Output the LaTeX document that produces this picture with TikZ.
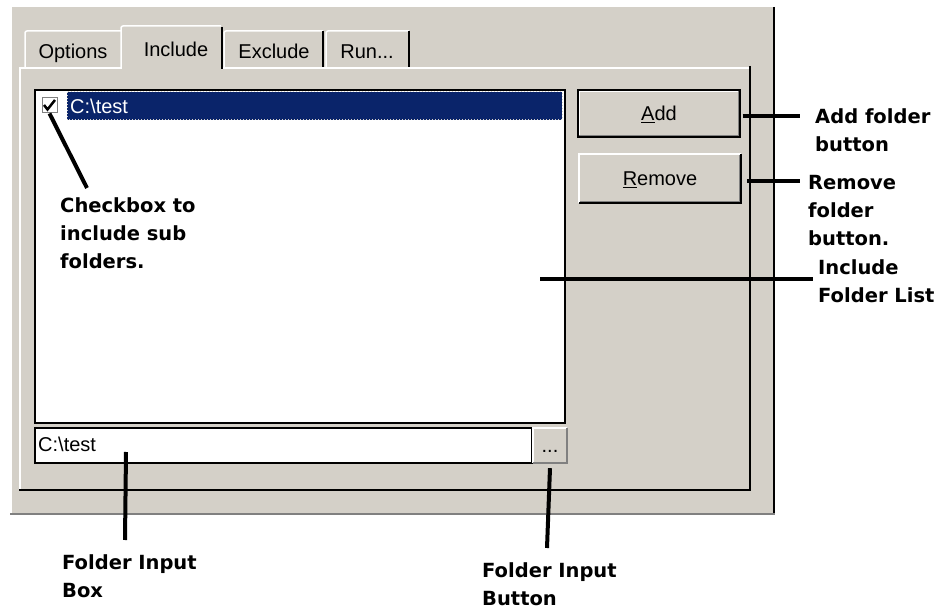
\documentclass[tikz,border=0pt]{standalone}
\usepackage{fontspec}
\setmainfont{Liberation Sans}
\newfontfamily\lblfont{DejaVu Sans}
\usetikzlibrary{positioning,calc}
\definecolor{WinGray}{RGB}{212,208,200}
\definecolor{SelBlue}{RGB}{10,36,106}
\definecolor{ShadeGray}{RGB}{128,128,128}

\begin{document}
\begin{tikzpicture}[x=1pt, y=-1pt,
	uitext/.style={font=\fontsize{20}{24}\selectfont, inner sep=0pt},
	lbl/.style={font=\lblfont\bfseries\fontsize{19.5}{28}\selectfont, align=left, anchor=north west, inner sep=0pt},
	callout/.style={line width=4pt},
	hilite/.style={white, line width=1.5pt},
	shade/.style={ShadeGray, line width=1.5pt},
	btnbox/.style={uitext, rectangle, fill=WinGray, text height=15pt, text depth=0pt}
	]
	\useasboundingbox (0,0) rectangle (951,609);
	% window and tab page
	\fill[WinGray] (10,7) rectangle (775,515);
	\draw[hilite] (11,515) -- (11,7);
	\draw[black, line width=1.5pt] (774,7) -- (774,515);
	\draw[ShadeGray, line width=2pt] (10,514) -- (775,514);
	\draw[hilite] (20,490) -- (20,68) -- (121,68);
	\draw[hilite] (222,68) -- (750,68);
	\draw[black, line width=1.5pt] (750,66) -- (750,490) -- (19,490);
	
	% tabs
	\draw[hilite, rounded corners=2pt] (25,67) -- (25,31) -- (121,31);
	\draw[hilite, rounded corners=2pt] (224,67) -- (224,31) -- (323,31);
	\draw[hilite, rounded corners=2pt] (326,67) -- (326,31) -- (409,31);
	\draw[black, line width=1.5pt] (323,31) -- (323,67);
	\draw[black, line width=1.5pt] (409,31) -- (409,67);
	\fill[WinGray] (121,26) rectangle (222,70);
	\draw[hilite, rounded corners=2pt] (121,69) -- (121,26) -- (221,26);
	\draw[black, line width=1.5pt] (222,27) -- (222,69);
	\node[uitext, anchor=base] (tabopt) at (73,59) {Options};
	\node[uitext, anchor=base] (tabinc) at (176,57) {Include};
	\node[uitext, anchor=base] (tabexc) at (274,59) {Exclude};
	\node[uitext, anchor=base] (tabrun) at (367,59) {Run...};
	
	% folder list
	\node[rectangle, fill=white, draw=black, line width=1.2pt, minimum width=530pt, minimum height=333pt, inner sep=0pt] (list) at (300,256.5) {};
	\fill[SelBlue] (67,92) rectangle (562,120);
	\draw[WinGray, dotted, line width=1pt] (67,92) rectangle (562,120);
	\node[uitext, anchor=west, white] (entry) at (70,106) {C:\textbackslash test};
	\node[rectangle, fill=white, draw=ShadeGray, line width=1pt, minimum size=15pt, inner sep=0pt] (chk) at (49.5,105.5) {};
	\draw[line width=2.5pt] (44,105) -- (47.5,109.5) -- (55,100);
	
	% buttons
	\node[btnbox, draw=black, line width=1.2pt, minimum width=162pt, minimum height=47pt] (add) at (659,113.5) {\underline{A}dd};
	\draw[hilite] ([shift={(2,-2)}]add.south west) -- ([shift={(2,2)}]add.north west) -- ([shift={(-2,2)}]add.north east);
	\draw[shade] ([shift={(2,-2)}]add.south west) -- ([shift={(-2,-2)}]add.south east) -- ([shift={(-2,2)}]add.north east);
	\node[btnbox, minimum width=162pt, minimum height=49pt] (rem) at (660,178.5) {\underline{R}emove};
	\draw[hilite] (rem.south west) -- (rem.north west) -- (rem.north east);
	\draw[black, line width=1.5pt] (rem.south west) -- (rem.south east) -- (rem.north east);
	\draw[shade] ([shift={(1.5,-1.5)}]rem.south west) -- ([shift={(-1.5,-1.5)}]rem.south east) -- ([shift={(-1.5,1.5)}]rem.north east);
	
	% folder input
	\node[rectangle, fill=white, draw=black, line width=1.2pt, minimum width=497pt, minimum height=35pt, inner sep=0pt] (inbox) at (283.5,445.5) {};
	\node[uitext, anchor=west] (intext) at (38,444) {C:\textbackslash test};
	\node[btnbox, minimum width=34pt, minimum height=35pt] (dots) at (550,445.5) {...};
	\draw[hilite] (dots.south west) -- (dots.north west) -- (dots.north east);
	\draw[shade] (dots.south west) -- (dots.south east) -- (dots.north east);
	
	% labels
	\node[lbl] (chklbl) at (60,197) {Checkbox to\\include sub\\folders.};
	\node[lbl] (addlbl) at (815,108) {Add folder\\button};
	\node[lbl] (remlbl) at (808,175) {Remove\\folder\\button.};
	\node[lbl] (listlbl) at (818,259) {Include\\Folder List};
	\node[lbl] (boxlbl) at (62,554) {Folder Input\\Box};
	\node[lbl] (btnlbl) at (482,562) {Folder Input\\Button};
	
	% callouts
	\coordinate (chktip) at (87,188);
	\coordinate (addtip) at (800,116);
	\coordinate (remtip) at (800,181);
	\coordinate (listpt) at (540,279);
	\coordinate (listtip) at (813,279);
	\coordinate (boxpt) at (126,452);
	\coordinate (boxtip) at (125,540);
	\coordinate (btntip) at (547,548);
	\draw[callout] (chk.south) -- (chktip);
	\draw[callout] ([xshift=2pt,yshift=-2.5pt]add.east) -- (addtip);
	\draw[callout] ([xshift=6pt,yshift=-2.5pt]rem.east) -- (remtip);
	\draw[callout] (listpt) -- (listtip);
	\draw[callout] (boxpt) -- (boxtip);
	\draw[callout] ([yshift=-5pt]dots.south) -- (btntip);
\end{tikzpicture}
\end{document}
